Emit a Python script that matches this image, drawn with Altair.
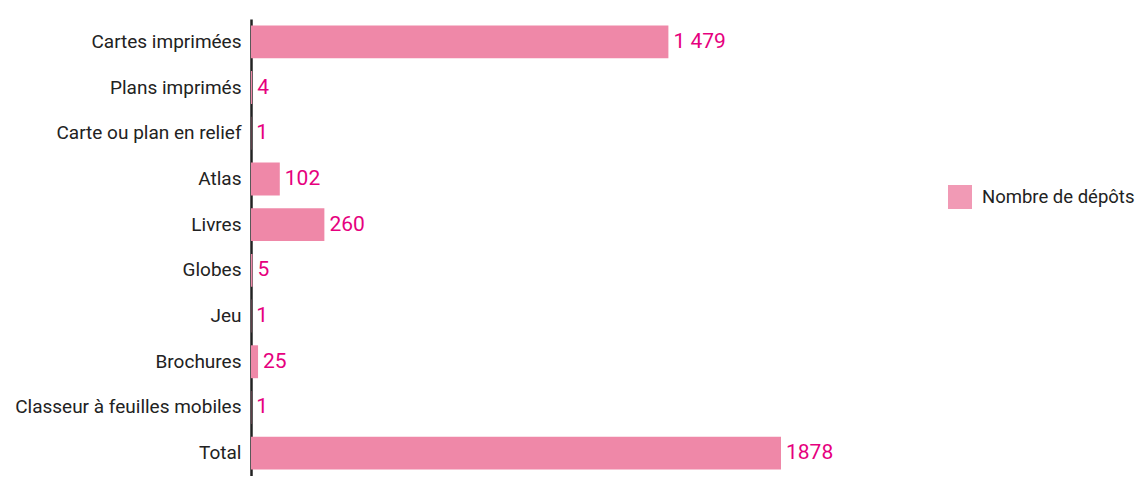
import altair as alt
import pandas as pd

categories = ["Cartes imprimées", "Plans imprimés", "Carte ou plan en relief", "Atlas",
              "Livres", "Globes", "Jeu", "Brochures", "Classeur à feuilles mobiles", "Total"]
values = [1479, 4, 1, 102, 260, 5, 1, 25, 1, 1878]
value_labels = ["1 479", "4", "1", "102", "260", "5", "1", "25", "1", "1878"]
series = ["Nombre de dépôts"] * len(categories)

df = pd.DataFrame({"cat": categories, "val": values, "lab": value_labels, "series": series})

FONT = "Roboto"

y = alt.Y("cat:N", sort=categories, title=None,
          scale=alt.Scale(paddingInner=0.28, paddingOuter=0.14),
          axis=alt.Axis(labelFontSize=19, labelColor="#222222", labelFont=FONT,
                        ticks=False, labelPadding=10, domainColor="#222222",
                        domainWidth=2.5, grid=False, labelLimit=400))
x = alt.X("val:Q", title=None, scale=alt.Scale(domain=[0, 1878], nice=False),
          axis=None)

bars = alt.Chart(df).mark_bar(opacity=1).encode(
    x=x, y=y,
    color=alt.Color("series:N", title=None,
                    scale=alt.Scale(range=["#ef88a8"]),
                    legend=alt.Legend(orient="none", legendX=697, legendY=166,
                                      symbolType="square",
                                      symbolSize=576, symbolOpacity=0.85,
                                      labelFontSize=18.5, labelFont=FONT,
                                      labelColor="#222222", symbolStrokeWidth=0,
                                      padding=0, labelOffset=10, labelLimit=400))
)

text = alt.Chart(df).mark_text(align="left", baseline="middle", dx=5, fontSize=21,
                               font=FONT, color="#e6007e").encode(
    x=x, y=y, text="lab:N")

chart = (bars + text).properties(
    width=530, height=457,
    padding={"top": 11, "left": 6, "right": 0, "bottom": 0}
).configure_view(stroke=None)

chart.save("out.html", embed_options={"renderer": "svg", "actions": False})
